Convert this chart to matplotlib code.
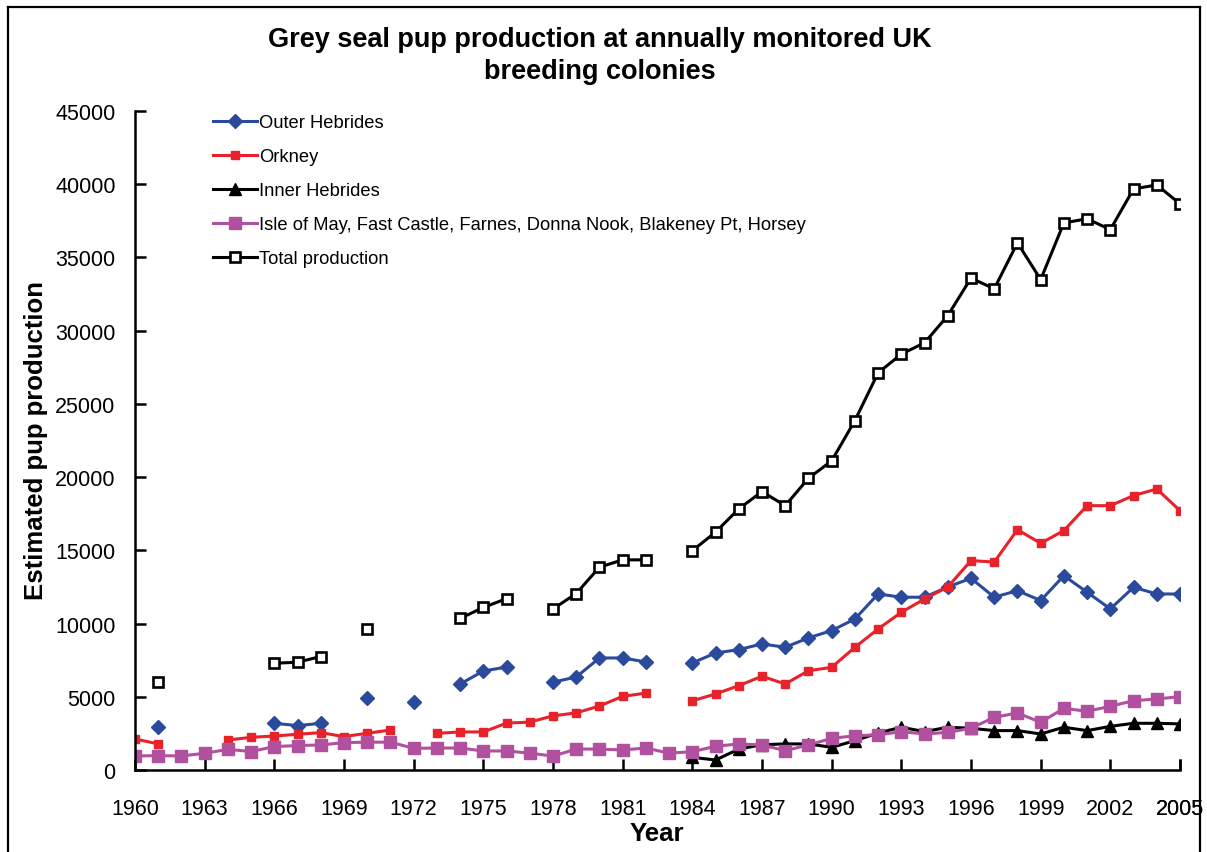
import numpy as np
import matplotlib
matplotlib.use("Agg")
import matplotlib.pyplot as plt
from matplotlib.lines import Line2D

plt.rcParams['font.family'] = ['Liberation Sans', 'DejaVu Sans']

nan = np.nan
years = list(range(1960, 2006))

outer_hebrides = [nan, 2960, nan, nan, nan, nan, 3190, 3030, 3190, nan,
                  4900, nan, 4670, nan, 5870, 6760, 7030, nan, 6000, 6350,
                  7650, 7650, 7380, nan, 7310, 7990, 8220, 8610, 8380, 9020,
                  9520, 10310, 12020, 11800, 11800, 12500, 13090, 11800, 12250, 11570,
                  13270, 12140, 11000, 12480, 12020, 12020]

orkney = [2120, 1780, nan, nan, 2050, 2230, 2320, 2440, 2550, 2280,
          2510, 2730, nan, 2500, 2600, 2600, 3200, 3270, 3700, 3900,
          4370, 5030, 5250, nan, 4730, 5190, 5760, 6400, 5870, 6780,
          7010, 8380, 9630, 10770, 11680, 12500, 14300, 14200, 16410, 15480,
          16350, 18050, 18050, 18740, 19190, 17710]

inner_hebrides = [nan] * 24 + [870, 680, 1430, 1730, 1780, 1780,
                               1550, 2000, 2530, 2920, 2620, 2920, 2850, 2690, 2690, 2460,
                               2920, 2690, 2980, 3190, 3190, 3150]

east_coast = [960, 980, 960, 1140, 1410, 1260, 1600, 1670, 1710, 1870,
              1900, 1900, 1480, 1500, 1500, 1300, 1300, 1150, 950, 1430,
              1430, 1370, 1500, 1150, 1250, 1620, 1780, 1710, 1320, 1710,
              2160, 2340, 2400, 2620, 2460, 2570, 2850, 3600, 3890, 3260,
              4210, 4010, 4350, 4730, 4850, 5010]

total = [nan, 6040, nan, nan, nan, nan, 7290, 7360, 7750, nan,
         9600, nan, nan, nan, 10350, 11100, 11700, nan, 11000, 12050,
         13850, 14350, 14350, nan, 14980, 16240, 17830, 19010, 18050, 19920,
         21110, 23860, 27120, 28400, 29170, 31030, 33590, 32860, 36000, 33490,
         37360, 37640, 36900, 39680, 39950, 38660]

labels = ["Outer Hebrides", "Orkney", "Inner Hebrides",
          "Isle of May, Fast Castle, Farnes, Donna Nook, Blakeney Pt, Horsey",
          "Total production"]

blue = "#2c4a9c"
red = "#e8222a"
purple = "#b0509e"

W, H = 1207, 853
fig = plt.figure(figsize=(W/100, H/100), dpi=100)
ax = fig.add_axes([135/W, 1 - 771/H, (1180-135)/W, (771-112)/H])

lw = 2.2
ax.plot(years, outer_hebrides, color=blue, lw=lw, marker='D', ms=7.5,
        mfc=blue, mec=blue, label=labels[0])
ax.plot(years, orkney, color=red, lw=lw, marker='s', ms=6,
        mfc=red, mec=red, label=labels[1])
ax.plot(years, inner_hebrides, color='black', lw=lw, marker='^', ms=8.5,
        mfc='black', mec='black', label=labels[2])
ax.plot(years, east_coast, color=purple, lw=lw, marker='s', ms=8.5,
        mfc=purple, mec=purple, label=labels[3])
ax.plot(years, total, color='black', lw=lw, marker='s', ms=7,
        mfc='white', mec='black', mew=1.9, label=labels[4])

ax.set_xlim(1960, 2005)
ax.set_ylim(0, 45000)
ax.set_xticks(list(range(1960, 2006, 3)) + [2005])
ax.set_xticklabels([str(y) for y in range(1960, 2006, 3)] + ["2005"])
ax.set_yticks(range(0, 45001, 5000))

for s in ['top', 'right']:
    ax.spines[s].set_visible(False)
for s in ['left', 'bottom']:
    ax.spines[s].set_linewidth(1.8)

ax.tick_params(axis='both', direction='in', length=8, width=1.8, labelsize=15.5)
ax.tick_params(axis='y', pad=14)
ax.tick_params(axis='x', pad=20)

ax.set_xlabel("Year", fontsize=18.5, fontweight='bold')
ax.xaxis.set_label_coords((657-135)/1045, (771-834)/659)
ax.xaxis.label.set_va('center')
ax.set_ylabel("Estimated pup production", fontsize=18.5, fontweight='bold')
ax.yaxis.set_label_coords((36-135)/1045, (771-440)/659)
ax.yaxis.label.set_va('center')

fig.text(0.497, 1 - 40/H, "Grey seal pup production at annually monitored UK",
         ha='center', va='center', fontsize=19.5, fontweight='bold')
fig.text(0.497, 1 - 72/H, "breeding colonies",
         ha='center', va='center', fontsize=19.5, fontweight='bold')

leg = ax.legend(loc='upper left', bbox_to_anchor=((213-135)/1045, (771-115)/659),
                frameon=False, fontsize=13.2, handlelength=2.4, handletextpad=0.1,
                labelspacing=0.93, borderaxespad=0, borderpad=0)

# figure border
for xs, ys in [([8/W, 8/W], [0, 1-8/H]),
               ([8/W, 1200/W], [1-8/H, 1-8/H]),
               ([1200/W, 1200/W], [1-8/H, 0])]:
    fig.add_artist(Line2D(xs, ys, color='black', lw=1.6, transform=fig.transFigure))

fig.savefig("out.png", dpi=100)
